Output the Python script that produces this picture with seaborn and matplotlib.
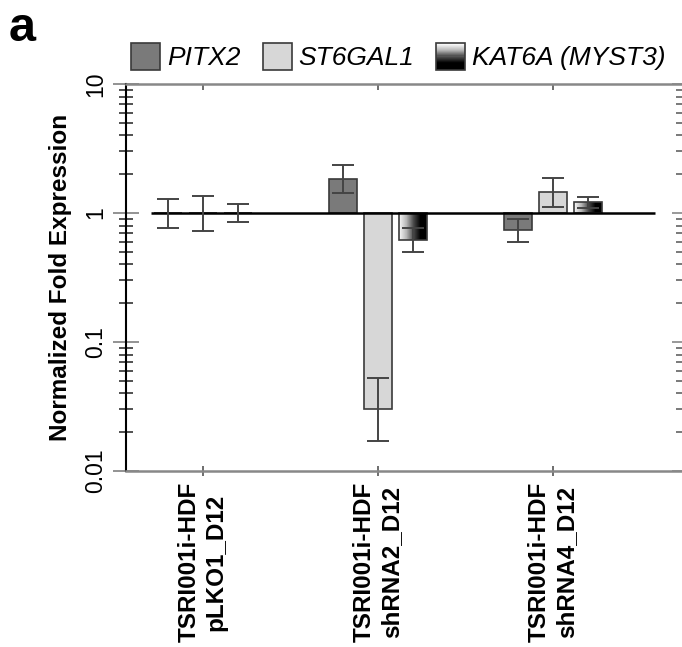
import numpy as np
import pandas as pd
import matplotlib
matplotlib.use("Agg")
import matplotlib.pyplot as plt
import seaborn as sns
from matplotlib.patches import Rectangle
from matplotlib.colors import LinearSegmentedColormap
from matplotlib.legend_handler import HandlerBase
from matplotlib.ticker import FuncFormatter

# %% values
samples = ["TSRI001i-HDF\npLKO1_D12", "TSRI001i-HDF\nshRNA2_D12", "TSRI001i-HDF\nshRNA4_D12"]
genes = ["PITX2", "ST6GAL1", "KAT6A (MYST3)"]

pitx2 = [1.0, 1.83, 0.74]
pitx2_lo = [0.77, 1.43, 0.60]
pitx2_hi = [1.28, 2.35, 0.90]

st6gal1 = [1.0, 0.030, 1.45]
st6gal1_lo = [0.73, 0.0171, 1.11]
st6gal1_hi = [1.35, 0.0523, 1.86]

kat6a = [1.0, 0.62, 1.22]
kat6a_lo = [0.85, 0.50, 1.09]
kat6a_hi = [1.17, 0.765, 1.33]

gene_colors = ["#7a7a7a", "#d7d7d7", "#ffffff"]

df = pd.DataFrame({
    "sample": samples * 3,
    "gene": np.repeat(genes, 3),
    "fold": pitx2 + st6gal1 + kat6a,
    "lo": pitx2_lo + st6gal1_lo + kat6a_lo,
    "hi": pitx2_hi + st6gal1_hi + kat6a_hi,
})

# %%
sns.set_style("ticks")
plt.rcParams["font.family"] = ["Liberation Sans", "DejaVu Sans"]
for k in ["text.color", "axes.labelcolor", "xtick.labelcolor", "ytick.labelcolor"]:
    plt.rcParams[k] = "black"

fig = plt.figure(figsize=(6.82, 6.47), dpi=100)
ax = fig.add_axes([126 / 682, 176 / 647, 556 / 682, 387 / 647])

sns.barplot(
    df, x="sample", y="fold", hue="gene",
    order=samples, hue_order=genes, palette=gene_colors,
    width=0.6, gap=0.2, errorbar=None, legend=False,
    edgecolor="#3a3a3a", linewidth=1.2, ax=ax
)

grad_cmap = LinearSegmentedColormap.from_list(
    "kat", ["#f6f6f6", "#b5b5b5", "#4a4a4a", "#000000", "#000000"])
grad = np.linspace(0, 1, 256).reshape(1, -1)

# bars grow from 1 (fold expression baseline), not from 0
for gene, container in zip(genes, ax.containers):
    sub = df[df.gene == gene].set_index("sample").loc[samples]
    for patch, (_, row) in zip(container.patches, sub.iterrows()):
        v = row.fold
        patch.set_y(1)
        patch.set_height(v - 1)
        xc = patch.get_x() + patch.get_width() / 2
        if gene == genes[2] and v != 1:
            patch.set_facecolor("none")
            patch.set_zorder(1.5)
            ax.imshow(grad, cmap=grad_cmap, aspect="auto", zorder=1.2,
                      extent=[patch.get_x(), patch.get_x() + patch.get_width(),
                              min(1, v), max(1, v)])
        ax.errorbar(xc, v, yerr=[[v - row.lo], [row.hi - v]], color="#444444",
                    lw=1.4, capsize=8, capthick=1.4, zorder=3)

ax.hlines(1, -0.3, 2.58, color="black", lw=1.8, zorder=2.5)

ax.set_yscale("log")
ax.set_ylim(0.01, 10)
ax.set_xlim(-0.44, 2.737)
ax.yaxis.set_major_formatter(FuncFormatter(lambda v, p: f"{v:g}"))

ax.set_xlabel("")
ax.set_ylabel("Normalized Fold Expression", fontsize=17.5, fontweight="bold", labelpad=9)

ax.tick_params(axis="y", which="major", direction="inout", length=18.5, width=1.2,
               color="#808080", labelsize=16.5, pad=4, labelrotation=90)
ax.tick_params(axis="y", which="minor", direction="inout", length=10, width=1.1,
               color="#222222")
for t in ax.get_yticklabels():
    t.set_va("center")
ax.tick_params(axis="x", direction="inout", length=7.5, width=1.2, color="#555555",
               pad=4)
ax.set_xticks(range(len(samples)))
ax.set_xticklabels(samples, rotation=90, fontsize=17.5, fontweight="bold",
                   multialignment="center")

ax.spines["left"].set_color("black")
ax.spines["left"].set_linewidth(1.5)
for s in ["top", "bottom"]:
    ax.spines[s].set_color("#888888")
    ax.spines[s].set_linewidth(1.8)
ax.spines["right"].set_visible(False)

# inward ticks on the top and right edges
top = ax.secondary_xaxis("top")
top.set_xticks(range(len(samples)))
top.tick_params(direction="in", length=4, width=1.2, color="#555555", labeltop=False)
top.spines["top"].set_visible(False)

right = ax.secondary_yaxis("right")
right.tick_params(which="major", direction="in", length=7.5, width=1.2,
                  color="#888888", labelright=False)
right.tick_params(which="minor", direction="in", length=4, width=1.1, color="#555555")
right.spines["right"].set_visible(False)


class GradientHandler(HandlerBase):
    def create_artists(self, legend, orig_handle, xdescent, ydescent,
                       width, height, fontsize, trans):
        n = 24
        h = height / n
        arts = []
        for i in range(n):
            c = grad_cmap(i / (n - 1))
            arts.append(Rectangle((-xdescent, -ydescent + height - (i + 1) * h), width, h,
                                  facecolor=c, edgecolor="none", transform=trans))
        arts.append(Rectangle((-xdescent, -ydescent), width, height, facecolor="none",
                              edgecolor="#3a3a3a", lw=1.2, transform=trans))
        return arts


handles = [Rectangle((0, 0), 1, 1, facecolor=c, edgecolor="#3a3a3a", lw=1.2)
           for c in gene_colors[:2]]
handles.append(Rectangle((0, 0), 1, 1))
leg = fig.legend(
    handles, genes, loc="center", bbox_to_anchor=(0.584, 0.912), ncol=3,
    frameon=False, handler_map={handles[2]: GradientHandler()},
    prop={"size": 19, "style": "italic"}, handlelength=1.1, handleheight=1.15,
    handletextpad=0.25, columnspacing=0.85, borderpad=0, borderaxespad=0
)

fig.text(0.012, 0.99, "a", fontsize=35, fontweight="bold", va="top", ha="left")

fig.savefig("out.png", dpi=100)
